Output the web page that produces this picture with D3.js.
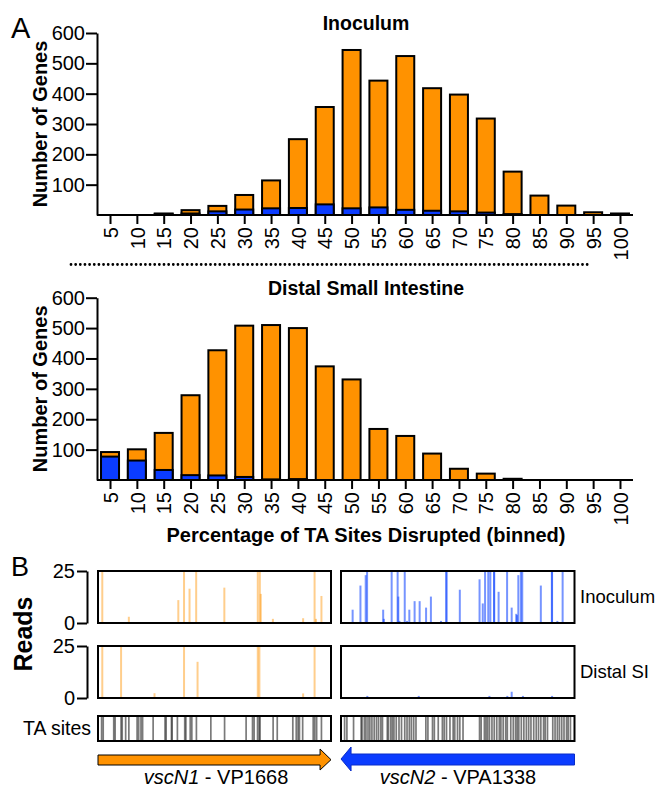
<!DOCTYPE html>
<meta charset="utf-8">
<style>
body { margin: 0; background: #fff; }
svg { font-family: "Liberation Sans", Arial, sans-serif; }
.axis path, .axis line { stroke: #000; stroke-width: 2px; }
.axis text { font-size: 20px; fill: #000; }
</style>
<svg width="659" height="790"></svg>
<script src="https://d3js.org/d3.v7.min.js"></script>
<script>
// --- histogram data (Number of Genes per % TA sites disrupted bin) ---
var bins = [5, 10, 15, 20, 25, 30, 35, 40, 45, 50, 55, 60, 65, 70, 75, 80, 85, 90, 95, 100];
var inocTotal = [0, 0, 5, 16, 30, 66, 114, 250, 356, 544, 443, 524, 418, 397, 318, 143, 64, 31, 9, 5];
var inocBlue  = [0, 0, 2, 5, 12, 18, 22, 23, 35, 22, 25, 17, 14, 12, 8, 3, 0, 0, 0, 0];
var siTotal   = [92, 101, 155, 279, 427, 508, 510, 500, 374, 331, 168, 145, 87, 37, 21, 4, 0, 0, 0, 0];
var siBlue    = [77, 64, 33, 16, 15, 10, 2, 3, 0, 0, 0, 0, 0, 0, 0, 0, 0, 0, 0, 0];
var yTicks = [100, 200, 300, 400, 500, 600];

// --- panel B: read positions (% along gene) and read counts ---
var n1InocPos  = [1.0, 12.6, 34.2, 36.7, 39.1, 42.0, 54.3, 68.9, 69.8, 70.2, 75.5, 88.7, 93.7, 94.3, 96.7];
var n1InocRead = [25, 3, 11, 25, 16.5, 25, 17, 25, 25, 14, 2, 2.3, 25, 2, 13];
var n2InocPos  = [4.2, 7.6, 9.9, 10.5, 17.5, 17.8, 21.2, 23.8, 24.1, 24.6, 26.9, 27.9, 28.9, 31.2, 33.4, 36.2, 38.3, 42.7, 45.0, 45.1,
                  50.9, 59.5, 60.9, 61.9, 63.3, 64.2, 65.8, 65.9, 67.8, 71.5, 73.5, 75.5, 75.8, 76.4, 77.5, 78.1, 86.2, 91.0, 91.1, 93.4, 95.7];
var n2InocRead = [6.4, 18, 23, 25, 6.4, 2, 25, 25, 12.7, 1, 25, 1, 6.4, 10.5, 10.5, 7.4, 12.7, 1, 25, 25,
                  16, 21, 9.4, 25, 25, 25, 25, 25, 15, 25, 7.4, 4.4, 3.8, 23, 25, 25, 18, 25, 25, 1, 25];
var n1SiPos  = [1.0, 9.2, 23.8, 36.7, 42.6, 68.9, 69.6, 88.7, 93.7];
var n1SiRead = [25, 25, 2.3, 25, 17.4, 25, 25, 2.2, 25];
var n2SiPos  = [10.6, 33.0, 63.8, 71.6, 73.5, 78.4, 91.1];
var n2SiRead = [1, 1, 1, 1, 3, 1, 1];
var n1TA = [0.7, 1.4, 6.0, 6.6, 9.2, 9.7, 11.2, 12.6, 16.2, 16.9, 17.9, 18.6, 23.2, 28.4, 28.9, 31.2, 31.5, 33.8, 37.0, 37.5, 39.4,
            40.1, 42.1, 48.4, 54.4, 63.8, 66.6, 67.3, 68.8, 69.5, 69.9, 75.6, 77.4, 84.2, 85.7, 86.5, 87.1, 88.5, 93.1, 93.8, 94.6, 96.7];
var n2TA = [0.7, 1.7, 4.6, 7.9, 8.3, 9.3, 10.0, 10.9, 11.7, 12.6, 13.6, 14.6, 15.5, 16.5, 17.2, 19.3, 19.8, 20.8, 21.5, 22.2, 23.2,
            24.4, 25.5, 26.9, 27.9, 28.9, 29.8, 30.8, 31.8, 36.1, 37.0, 39.0, 39.8, 41.5, 43.3, 44.1, 45.1, 46.6, 48.0, 48.7, 49.9,
            50.9, 52.3, 59.5, 60.2, 61.6, 62.3, 63.0, 63.8, 64.9, 65.9, 67.0, 68.1, 68.8, 69.8, 70.9, 71.6, 73.1, 74.2, 75.2, 75.9,
            76.6, 77.7, 78.8, 79.9, 80.9, 81.9, 83.1, 84.2, 85.2, 86.2, 87.4, 88.1, 89.1, 91.4, 92.4, 93.4, 94.3, 95.3, 96.3, 97.4, 98.1, 99.1];

var ORANGE = "#ff9200", BLUE = "#0b3cff";
var svg = d3.select("svg");

var x = d3.scalePoint().domain(bins).range([97, 633]).padding(0.485);
var barW = 18;

function histogram(total, blue, top, bottom, title) {
  var y = d3.scaleLinear().domain([0, 600]).range([bottom, top]);
  var g = svg.append("g");

  var rows = bins.map(function(b, i) { return {bin: b, total: total[i], blue: blue[i]}; })
    .filter(function(d) { return d.total > 0; });

  g.selectAll("rect.tot").data(rows).enter().append("rect")
      .attr("x", function(d) { return x(d.bin) - barW / 2; })
      .attr("y", function(d) { return y(d.total); })
      .attr("width", barW)
      .attr("height", function(d) { return y(0) - y(d.total); })
      .attr("fill", ORANGE).attr("stroke", "#000").attr("stroke-width", 2);

  g.selectAll("rect.low").data(rows.filter(function(d) { return d.blue > 0; })).enter().append("rect")
      .attr("x", function(d) { return x(d.bin) - barW / 2; })
      .attr("y", function(d) { return y(d.blue); })
      .attr("width", barW)
      .attr("height", function(d) { return y(0) - y(d.blue); })
      .attr("fill", BLUE).attr("stroke", "#000").attr("stroke-width", 2);

  g.append("g").attr("class", "axis")
      .attr("transform", "translate(97,0)")
      .call(d3.axisLeft(y).tickValues(yTicks).tickSize(11).tickPadding(1).tickSizeOuter(0));

  var xa = g.append("g").attr("class", "axis")
      .attr("transform", "translate(0," + bottom + ")")
      .call(d3.axisBottom(x).tickSize(9).tickSizeOuter(0));
  xa.select(".domain").attr("d", "M97,0H633");
  xa.selectAll("text")
      .attr("transform", "rotate(-90)")
      .attr("x", -12).attr("y", 0).attr("dy", "0.36em")
      .attr("text-anchor", "end");

  g.append("text").attr("x", 366).attr("y", top - 3)
      .attr("text-anchor", "middle").attr("font-weight", "bold").attr("font-size", 19.5)
      .text(title);

  g.append("text")
      .attr("transform", "translate(47," + (top + bottom) / 2 + ") rotate(-90)")
      .attr("text-anchor", "middle").attr("font-weight", "bold").attr("font-size", 20)
      .text("Number of Genes");
}

histogram(inocTotal, inocBlue, 33, 215, "Inoculum");
histogram(siTotal, siBlue, 297.7, 480, "Distal Small Intestine");

svg.append("text").attr("x", 11).attr("y", 38).attr("font-size", 29).text("A");

svg.append("line")
    .attr("x1", 71).attr("x2", 590).attr("y1", 264.5).attr("y2", 264.5)
    .attr("stroke", "#000").attr("stroke-width", 2.8)
    .attr("stroke-linecap", "round").attr("stroke-dasharray", "0,4.65");

svg.append("text").attr("x", 366).attr("y", 542)
    .attr("text-anchor", "middle").attr("font-weight", "bold").attr("font-size", 20)
    .text("Percentage of TA Sites Disrupted (binned)");

// --- panel B ---
svg.append("text").attr("x", 11).attr("y", 576).attr("font-size", 27).text("B");

var genes = [
  {x0: 98, x1: 331, inocP: n1InocPos, inocR: n1InocRead, siP: n1SiPos, siR: n1SiRead, ta: n1TA, color: ORANGE, op: 0.45},
  {x0: 341, x1: 574.5, inocP: n2InocPos, inocR: n2InocRead, siP: n2SiPos, siR: n2SiRead, ta: n2TA, color: "#1a4dff", op: 0.6}
];
var rowsB = [{top: 571, bottom: 623, key: "inoc"}, {top: 646, bottom: 698, key: "si"}];

genes.forEach(function(gn) {
  var xs = d3.scaleLinear().domain([0, 100]).range([gn.x0 + 2, gn.x1 - 2]);
  rowsB.forEach(function(r) {
    var yr = d3.scaleLinear().domain([0, 25]).range([r.bottom, r.top]);
    var pos = r.key === "inoc" ? gn.inocP : gn.siP;
    var rd = r.key === "inoc" ? gn.inocR : gn.siR;
    svg.append("g").selectAll("line").data(pos).enter().append("line")
        .attr("x1", function(d) { return xs(d); }).attr("x2", function(d) { return xs(d); })
        .attr("y1", yr(0)).attr("y2", function(d, i) { return yr(Math.min(rd[i], 25)); })
        .attr("stroke", gn.color).attr("stroke-opacity", gn.op).attr("stroke-width", 2);
    svg.append("rect").attr("x", gn.x0).attr("y", r.top)
        .attr("width", gn.x1 - gn.x0).attr("height", r.bottom - r.top)
        .attr("fill", "none").attr("stroke", "#000").attr("stroke-width", 2);
  });
  svg.append("g").selectAll("line").data(gn.ta).enter().append("line")
      .attr("x1", function(d) { return xs(d); }).attr("x2", function(d) { return xs(d); })
      .attr("y1", 716).attr("y2", 741)
      .attr("stroke", "#222").attr("stroke-opacity", 0.6).attr("stroke-width", 1.7);
  svg.append("rect").attr("x", gn.x0).attr("y", 716)
      .attr("width", gn.x1 - gn.x0).attr("height", 25)
      .attr("fill", "none").attr("stroke", "#000").attr("stroke-width", 2);
});

// reads axes (brackets)
rowsB.forEach(function(r) {
  var yr = d3.scaleLinear().domain([0, 25]).range([r.bottom, r.top]);
  svg.append("g").attr("class", "axis")
      .attr("transform", "translate(87,0)")
      .call(d3.axisLeft(yr).tickValues([0, 25]).tickSize(10).tickPadding(2).tickSizeOuter(0));
});

svg.append("text")
    .attr("transform", "translate(32,634) rotate(-90)")
    .attr("text-anchor", "middle").attr("font-weight", "bold").attr("font-size", 25)
    .text("Reads");

svg.append("text").attr("x", 580).attr("y", 603).attr("font-size", 18.5).text("Inoculum");
svg.append("text").attr("x", 580).attr("y", 678).attr("font-size", 18.5).text("Distal SI");
svg.append("text").attr("x", 91).attr("y", 735).attr("text-anchor", "end")
    .attr("font-size", 19.5).text("TA sites");

// gene arrows
var ax1 = d3.scaleLinear().domain([0, 100]).range([genes[0].x0, genes[0].x1]);
var ax2 = d3.scaleLinear().domain([0, 100]).range([genes[1].x0, genes[1].x1]);
var fwd = d3.line()([[ax1(0), 755], [ax1(95.3), 755], [ax1(95.3), 749], [ax1(100), 759.7],
                     [ax1(95.3), 770], [ax1(95.3), 765], [ax1(0), 765]]) + "Z";
svg.append("path").attr("d", fwd).attr("fill", ORANGE).attr("stroke", "#000").attr("stroke-width", 1);
var rev = d3.line()([[ax2(100), 754], [ax2(4.3), 754], [ax2(4.3), 747], [ax2(0), 759],
                     [ax2(4.3), 771], [ax2(4.3), 765], [ax2(100), 765]]) + "Z";
svg.append("path").attr("d", rev).attr("fill", BLUE).attr("stroke", "#0a2cc8").attr("stroke-width", 1);

var l1 = svg.append("text").attr("x", 216).attr("y", 784).attr("text-anchor", "middle").attr("font-size", 20);
l1.append("tspan").attr("font-style", "italic").text("vscN1");
l1.append("tspan").text(" - VP1668");
var l2 = svg.append("text").attr("x", 458).attr("y", 784).attr("text-anchor", "middle").attr("font-size", 20);
l2.append("tspan").attr("font-style", "italic").text("vscN2");
l2.append("tspan").text(" - VPA1338");
</script>
